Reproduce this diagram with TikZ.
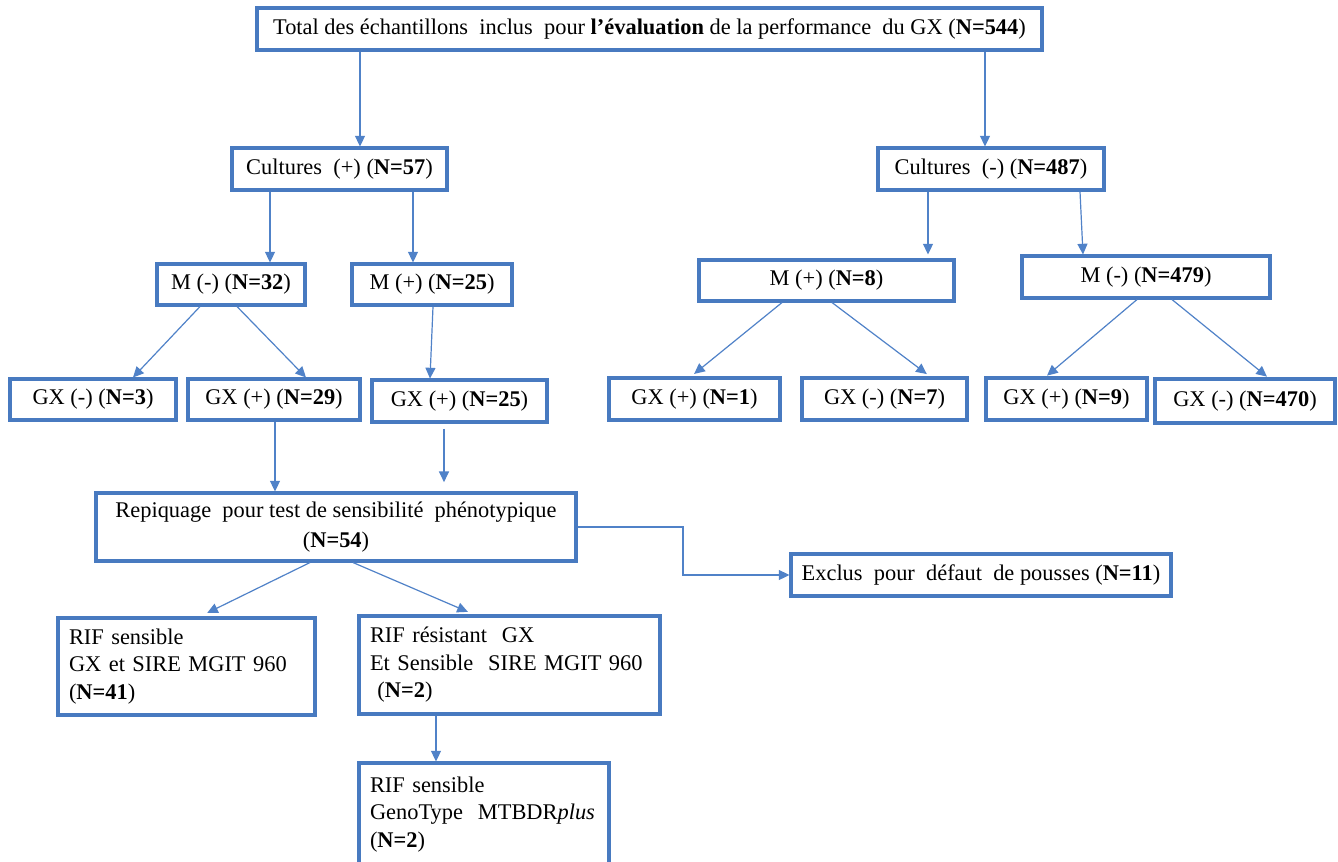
\documentclass[tikz,border=0pt]{standalone}
\usepackage{fontspec}
\setmainfont{Liberation Serif}
\usetikzlibrary{arrows.meta,calc}
\definecolor{bordblue}{RGB}{72,122,192}
\definecolor{arrblue}{RGB}{80,130,200}
\tikzset{
  box/.style={draw=bordblue, line width=2.3pt, rectangle, fill=white, inner sep=0pt,
    font=\fontsize{16.8}{20.6}\selectfont, align=center},
  mbox/.style={box, align=left},
  arr/.style={draw=arrblue, line width=0.9pt, -{Triangle[length=8pt,width=7.5pt]}},
}
\newcommand\bx[6]{\node[box, minimum width={(#4-#2)*0.75pt}, minimum height={(#5-#3)*0.75pt}] (#1) at ({(#2+#4)/2},{(#3+#5)/2}) {#6};}
\newcommand\mbx[6]{\node[mbox, minimum width={(#4-#2)*0.75pt}, minimum height={(#5-#3)*0.75pt}, text width={(#4-#2-22)*0.75pt}] (#1) at ({(#2+#4)/2},{(#3+#5)/2}) {#6};}
\begin{document}
\begin{tikzpicture}[x=0.75pt,y=-0.75pt]
\useasboundingbox (0,0) rectangle (1338,861);
\fill[white] (0,0) rectangle (1338,861);
% boxes
\bx{top}{257}{8}{1042}{50}{Total des échantillons\ \ inclus\ \ pour \textbf{l’évaluation} de la performance\ \ du GX (\textbf{N=544})}
\bx{cp}{232}{148}{447}{190}{Cultures\ \ (+) (\textbf{N=57})}
\bx{cm}{878}{148}{1104}{190}{Cultures\ \ (-) (\textbf{N=487})}
\bx{mm32}{157}{264}{305}{305}{M (-) (\textbf{N=32})}
\bx{mp25}{352}{264}{512}{305}{M (+) (\textbf{N=25})}
\bx{mp8}{699}{260}{954}{301}{M (+) (\textbf{N=8})}
\bx{mm479}{1022}{256}{1270}{298}{M (-) (\textbf{N=479})}
\bx{g3}{10}{379}{176}{420}{GX (-) (\textbf{N=3})}
\bx{g29}{188}{379}{360}{420}{GX (+) (\textbf{N=29})}
\bx{g25}{372}{380}{547}{422}{GX (+) (\textbf{N=25})}
\bx{g1}{609}{378}{780}{420}{GX (+) (\textbf{N=1})}
\bx{g7}{802}{378}{967}{420}{GX (-) (\textbf{N=7})}
\bx{g9}{986}{378}{1147}{420}{GX (+) (\textbf{N=9})}
\bx{g470}{1155}{379}{1335}{423}{GX (-) (\textbf{N=470})}
\bx{rep}{96}{493}{576}{561}{Repiquage\ \ pour test de sensibilité\ \ phénotypique\\[2pt](\textbf{N=54})}
\bx{excl}{791}{554}{1171}{596}{Exclus\ \ pour\ \ défaut\ \ de pousses (\textbf{N=11})}
\mbx{rs}{58}{618}{315}{715}{RIF sensible\\GX et SIRE MGIT 960\\(\textbf{N=41})}
\mbx{rr}{359}{616}{660}{714}{RIF résistant\ \ GX\\Et Sensible\ \ SIRE MGIT 960\\\ (\textbf{N=2})}
\mbx{rg}{359}{763}{609}{866}{RIF sensible\\GenoType\ \ MTBDR\textit{plus}\\(\textbf{N=2})}
% connectors
\draw[arr] (top.south -| 360,0) -- (cp.north -| 360,0);
\draw[arr] (top.south -| 985,0) -- (cm.north -| 985,0);
\draw[arr] (cp.south -| 270,0) -- (mm32.north -| 270,0);
\draw[arr] (cp.south -| 413,0) -- (mp25.north -| 413,0);
\draw[arr, shorten >=3pt] (cm.south -| 928,0) -- (mp8.north -| 928,0);
\draw[arr] (cm.south -| 1080,0) -- (mm479.north -| 1083,0);
\draw[arr] (mm32.south -| 200,0) -- (g3.north -| 133,0);
\draw[arr] (mm32.south -| 237,0) -- (g29.north -| 306,0);
\draw[arr] (mp25.south -| 433,0) -- (g25.north -| 430,0);
\draw[arr, shorten >=3pt] (mp8.south -| 782,0) -- (g1.north -| 691,0);
\draw[arr, shorten >=3pt] (mp8.south -| 832,0) -- (g7.north -| 930,0);
\draw[arr, shorten >=1pt] (mm479.south -| 1137,0) -- (g9.north -| 1046,0);
\draw[arr, shorten >=1pt] (mm479.south -| 1172,0) -- (g470.north -| 1268,0);
\draw[arr] (g29.south -| 275,0) -- (rep.north -| 275,0);
\draw[arr, shorten <=4pt, shorten >=7pt] (g25.south -| 444,0) -- (rep.north -| 444,0);
\coordinate (elbow) at (683,527);
\draw[arr] (rep.east) -- (rep.east -| elbow) |- (excl.west);
\draw[arr, shorten >=6pt] (rep.south -| 310,0) -- (rs.north -| 200,0);
\draw[arr, shorten >=5pt] (rep.south -| 353,0) -- (rr.north -| 474,0);
\draw[arr] (rr.south -| 436,0) -- (rg.north -| 436,0);
\end{tikzpicture}
\end{document}
